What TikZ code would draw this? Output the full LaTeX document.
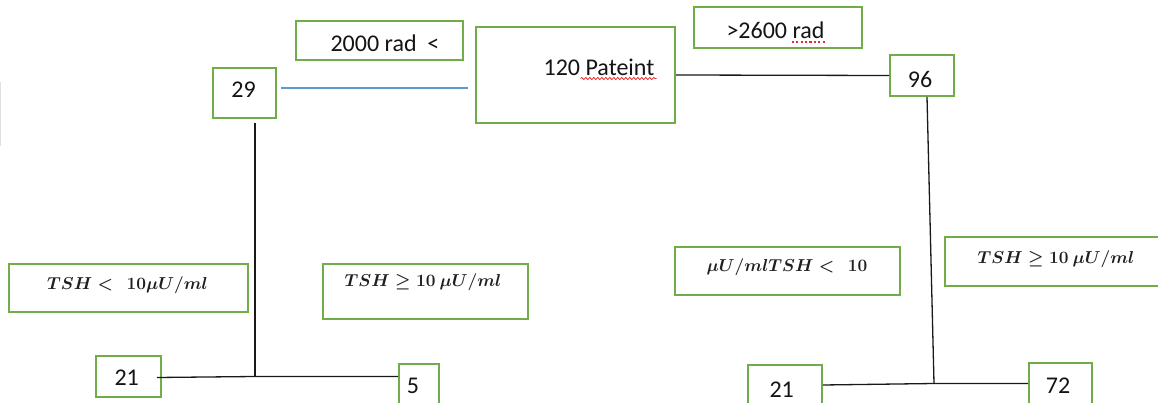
\documentclass[tikz,border=0pt]{standalone}
\usepackage{fontspec}
\setmainfont{Carlito}
\usetikzlibrary{calc,decorations.pathmorphing}
\definecolor{boxgreen}{HTML}{70AD47}
\definecolor{linkblue}{HTML}{5B9BD5}
\definecolor{spellred}{HTML}{E03030}
\begin{document}
\begin{tikzpicture}[x=1pt,y=-1pt,
  gbox/.style={draw=boxgreen, line width=1.6pt, inner sep=0pt, fill=white},
  lbl/.style={font=\fontsize{24}{28}\selectfont, inner sep=0pt, text=black!92},
  mlbl/.style={font=\fontsize{17.5}{20}\selectfont\boldmath, inner sep=0pt, text=black!88},
  link/.style={line width=1.3pt, black!90},
  wavy/.style={draw=spellred, line width=0.8pt, decorate,
    decoration={snake, amplitude=1.1pt, segment length=4pt}},
  dotline/.style={draw=spellred, line width=1.3pt, dash pattern=on 2.2pt off 2.2pt}]
\useasboundingbox[fill=white] (0,0) rectangle (1158,403);
\draw[black!12, line width=0.8pt] (0.5,82) -- (0.5,146);

% boxes
\node[gbox, minimum width=167pt, minimum height=39pt] (r2000) at (379.5,40.5) {};
\node[gbox, minimum width=199pt, minimum height=96pt] (root) at (575.5,75) {};
\node[gbox, minimum width=63pt, minimum height=50pt] (n29) at (244.5,93) {};
\node[gbox, minimum width=168pt, minimum height=41pt] (r2600) at (778,27.5) {};
\node[gbox, minimum width=64pt, minimum height=41pt] (n96) at (922,75.5) {};
\node[gbox, minimum width=239pt, minimum height=48pt] (tshA) at (128.5,288) {};
\node[gbox, minimum width=205pt, minimum height=55pt] (tshB) at (425.5,291.5) {};
\node[gbox, minimum width=225pt, minimum height=48pt] (tshM) at (787.5,271) {};
\node[gbox, minimum width=230pt, minimum height=49pt] (tshC) at (1060,261.5) {};
\node[gbox, minimum width=65pt, minimum height=41pt] (n21a) at (128.5,376.5) {};
\node[gbox, minimum width=40pt, minimum height=56pt] (n5) at (419,392) {};
\node[gbox, minimum width=74pt, minimum height=55pt] (n21b) at (785,392.5) {};
\node[gbox, minimum width=63pt, minimum height=57pt] (n72) at (1060.5,391.5) {};

% texts
\node[lbl] (t2000) at (385,43) {2000 rad\ \ <};
\node[lbl] (t120) at (599,67) {120 Pateint};
\node[lbl] (t2600) at (775.5,30) {>2600 rad};
\node[lbl] (t29) at (243.5,90) {29};
\node[lbl] (t96) at (920,79) {96};
\node[lbl] (t21a) at (126.7,378) {21};
\node[lbl] (t5) at (413,386) {5};
\node[lbl] (t21b) at (781.7,390) {21};
\node[lbl] (t72) at (1058,386) {72};
\node[mlbl] (mA) at (127.5,285) {$TSH <\ \ 10\mu U/ml$};
\node[mlbl] (mB) at (423,282) {$TSH \geq 10\ \mu U/ml$};
\node[mlbl] (mM) at (787,267) {$\mu U/ml TSH <\ \ 10$};
\node[mlbl] (mC) at (1056,259) {$TSH \geq 10\ \mu U/ml$};

% proofing marks under the texts
\draw[wavy] ($(t120.south east)+(-74,3)$) -- ($(t120.south east)+(2,3)$);
\draw[dotline] ($(t2600.south east)+(-33,3.5)$) -- ($(t2600.south east)+(2,3.5)$);

% connectors
\coordinate (j1) at (255,376.5);
\coordinate (j2) at (934,383.5);
\draw[link] (root.east) -- (n96.west);
\draw[linkblue, line width=1.3pt] ($(n29.east)+(4,-5)$) -- ($(root.west)+(-7,13)$);
\draw[link] ($(n29.south -| j1)+(0,4)$) -- (j1);
\draw[link] ($(n21a.east)+(-5,1)$) -- (j1) -- (n5.west |- j1);
\draw[link] ($(n96.south)+(5,0)$) -- (j2);
\draw[link] ($(n21b.east)+(0,-7.5)$) -- (j2) -- (n72.west |- j2);
\end{tikzpicture}
\end{document}
